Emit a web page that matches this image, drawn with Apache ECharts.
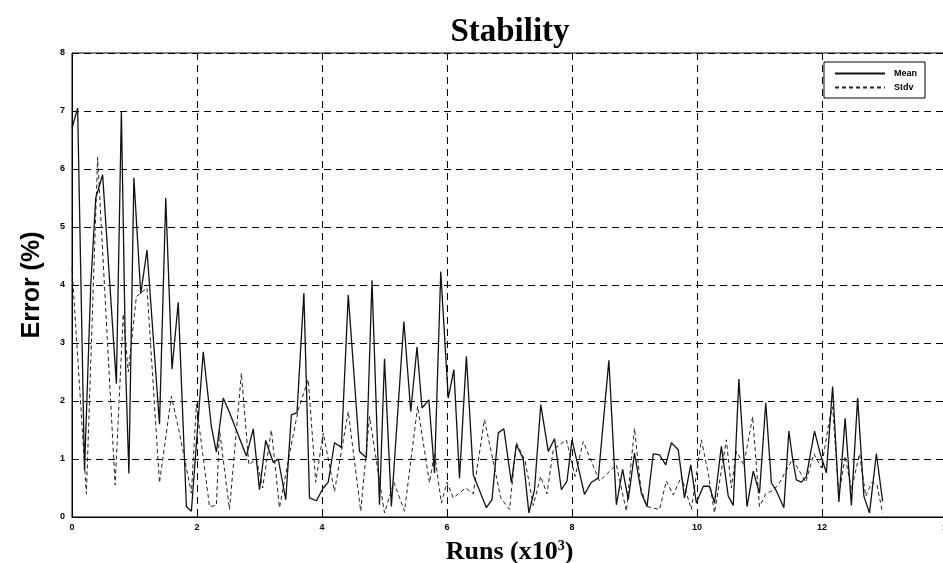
<!DOCTYPE html>
<html>
<head>
<meta charset="utf-8">
<script src="https://cdn.jsdelivr.net/npm/echarts@6/dist/echarts.min.js"></script>
<style>
  html, body { margin: 0; padding: 0; background: #fff; }
  #chart { width: 943px; height: 563px; }
</style>
</head>
<body>
<div id="chart"></div>
<script>
// runs in thousands, error in %
const meanRuns = [0, 0.09, 0.2, 0.3, 0.38, 0.49, 0.71, 0.79, 0.86, 0.91, 0.99, 1.1, 1.2, 1.4, 1.5, 1.6, 1.7, 1.83, 1.91,
  2.1, 2.23, 2.31, 2.42, 2.52, 2.79, 2.9, 3.0, 3.1, 3.22, 3.3, 3.42, 3.51, 3.6, 3.71, 3.8, 3.91,
  4.02, 4.1, 4.2, 4.31, 4.42, 4.6, 4.71, 4.8, 4.92, 5.0, 5.11, 5.31, 5.42, 5.52, 5.6, 5.71, 5.8, 5.9,
  6.02, 6.11, 6.2, 6.31, 6.42, 6.63, 6.72, 6.82, 6.91, 7.03, 7.11, 7.22, 7.31, 7.4, 7.5, 7.62, 7.72, 7.83, 7.92,
  8.0, 8.2, 8.31, 8.42, 8.59, 8.71, 8.81, 8.9, 9.0, 9.11, 9.2, 9.3, 9.4, 9.5, 9.59, 9.7, 9.8, 9.9, 9.99,
  10.1, 10.2, 10.28, 10.39, 10.5, 10.58, 10.67, 10.8, 10.9, 11.0, 11.1, 11.19, 11.27, 11.39, 11.47, 11.53, 11.59,
  11.67, 11.75, 11.88, 11.97, 12.07, 12.17, 12.27, 12.37, 12.47, 12.57, 12.67, 12.76, 12.87, 12.97];
const meanErr = [6.7, 7.05, 0.8, 4.0, 5.5, 5.9, 2.3, 7.0, 2.5, 0.75, 5.85, 3.85, 4.6, 1.6, 5.5, 2.55, 3.7, 0.18, 0.1,
  2.85, 1.56, 1.12, 2.05, 1.8, 1.05, 1.52, 0.47, 1.32, 0.94, 1.0, 0.3, 1.76, 1.8, 3.86, 0.33, 0.28,
  0.5, 0.6, 1.28, 1.2, 3.83, 1.13, 1.02, 4.08, 0.21, 2.73, 0.18, 3.37, 1.82, 2.93, 1.88, 2.02, 0.76, 4.23,
  2.05, 2.54, 0.67, 2.77, 0.73, 0.16, 0.3, 1.45, 1.52, 0.59, 1.25, 1.0, 0.07, 0.47, 1.94, 1.13, 1.35, 0.47, 0.62,
  1.33, 0.39, 0.6, 0.67, 2.7, 0.21, 0.82, 0.3, 1.1, 0.41, 0.18, 1.09, 1.07, 0.9, 1.28, 1.16, 0.33, 0.9, 0.24,
  0.53, 0.53, 0.24, 1.22, 0.36, 0.2, 2.38, 0.18, 0.79, 0.41, 1.97, 0.59, 0.45, 0.16, 1.48, 1.0, 0.64,
  0.6, 0.7, 1.48, 1.1, 0.76, 2.25, 0.26, 1.7, 0.2, 2.05, 0.36, 0.07, 1.09, 0.27];

const stdvRuns = [0, 0.23, 0.41, 0.69, 0.82, 0.9, 1.03, 1.2, 1.4, 1.59, 1.72, 1.91, 1.99, 2.2, 2.31, 2.36, 2.52, 2.71, 2.83, 2.95,
  3.05, 3.19, 3.32, 3.5, 3.62, 3.78, 3.9, 4.02, 4.2, 4.42, 4.62, 4.76, 5.0, 5.15, 5.32, 5.53, 5.72, 5.8, 5.91,
  6.0, 6.1, 6.3, 6.42, 6.6, 6.86, 7.0, 7.11, 7.25, 7.38, 7.5, 7.6, 7.7, 7.91, 8.05, 8.18, 8.44, 8.71, 8.87,
  9.0, 9.1, 9.2, 9.4, 9.51, 9.62, 9.75, 9.91, 10.07, 10.18, 10.28, 10.47, 10.55, 10.63, 10.75, 10.89,
  11.0, 11.1, 11.2, 11.3, 11.53, 11.74, 11.87, 11.99, 12.12, 12.17, 12.27, 12.37, 12.47, 12.6, 12.7, 12.8, 12.88, 12.97];
const stdvErr = [4.3, 0.4, 6.2, 0.55, 3.5, 2.5, 3.8, 3.95, 0.59, 2.08, 1.45, 0.41, 1.94, 0.18, 0.2, 1.5, 0.13, 2.48, 0.9, 1.0,
  0.5, 1.5, 0.16, 1.2, 1.85, 2.37, 0.6, 1.45, 0.44, 1.82, 0.1, 1.73, 0.07, 0.6, 0.1, 1.91, 0.59, 1.1, 0.24,
  0.6, 0.33, 0.5, 0.4, 1.68, 0.33, 0.13, 1.28, 0.97, 0.2, 0.7, 0.4, 1.16, 1.33, 0.7, 1.3, 0.62, 0.9, 0.1,
  1.53, 0.5, 0.18, 0.13, 0.62, 0.38, 0.7, 0.13, 1.33, 0.75, 0.07, 1.33, 0.5, 1.13, 0.9, 1.73,
  0.18, 0.4, 0.45, 0.55, 1.0, 0.6, 1.09, 0.85, 1.68, 1.9, 0.36, 1.05, 0.47, 1.09, 0.36, 0.6, 0.55, 0.07];

const zip = (xs, ys) => xs.map((x, i) => [x, ys[i]]);

const tickFont = { color: '#000', fontFamily: 'Arial', fontWeight: 'bold', fontSize: 9 };
const gridDash = { show: true, lineStyle: { color: '#000', type: [7, 5], width: 1 } };

const myChart = echarts.init(document.getElementById('chart'));
myChart.setOption({
  backgroundColor: '#fff',
  animation: false,
  title: {
    text: 'Stability',
    left: 505,
    top: 11,
    textAlign: 'center',
    textStyle: { fontFamily: 'Liberation Serif', fontWeight: 'bold', fontSize: 33, color: '#000' },
  },
  grid: {
    left: 72,
    top: 53,
    width: 875,
    bottom: 46,
    outerBoundsMode: 'none',
    show: true,
    borderColor: '#000',
    borderWidth: 1,
  },
  legend: {
    right: 18,
    top: 62,
    orient: 'vertical',
    backgroundColor: '#fff',
    borderColor: '#000',
    borderWidth: 1,
    padding: [7, 8, 6, 10],
    itemGap: 5,
    itemWidth: 50,
    itemHeight: 10,
    itemStyle: { opacity: 0 },
    textStyle: { color: '#000', fontFamily: 'Arial', fontWeight: 'bold', fontSize: 9, padding: [0, 0, 0, 4] },
    data: ['Mean', 'Stdv'],
  },
  xAxis: {
    type: 'value',
    min: 0,
    max: 14,
    interval: 2,
    name: 'Runs (x10{sup|3})',
    nameLocation: 'middle',
    nameGap: 22,
    nameTextStyle: {
      fontFamily: 'Liberation Serif', fontWeight: 'bold', fontSize: 26, color: '#000',
      rich: { sup: { fontFamily: 'Liberation Serif', fontWeight: 'bold', fontSize: 14, verticalAlign: 'top', padding: [0, 0, 12, 0] } },
    },
    axisLine: { show: true, lineStyle: { color: '#000', width: 1 } },
    axisTick: { inside: true, length: 4, lineStyle: { color: '#000' } },
    axisLabel: { ...tickFont, margin: 6 },
    splitLine: gridDash,
  },
  yAxis: {
    type: 'value',
    min: 0,
    max: 8,
    interval: 1,
    name: 'Error (%)',
    nameLocation: 'middle',
    nameGap: 27,
    nameTextStyle: { fontFamily: 'Arial', fontWeight: 'bold', fontSize: 25, color: '#000' },
    axisLine: { show: true, lineStyle: { color: '#000', width: 1 } },
    axisTick: { inside: true, length: 4, lineStyle: { color: '#000' } },
    axisLabel: { ...tickFont, margin: 7 },
    splitLine: gridDash,
  },
  series: [
    {
      name: 'Mean',
      type: 'line',
      symbol: 'none',
      data: zip(meanRuns, meanErr),
      lineStyle: { color: '#111', width: 1.3, type: 'solid' },
      itemStyle: { color: '#111' },
      z: 3,
    },
    {
      name: 'Stdv',
      type: 'line',
      symbol: 'none',
      data: zip(stdvRuns, stdvErr),
      lineStyle: { color: '#222', width: 1, type: [4, 3] },
      itemStyle: { color: '#222' },
      z: 2,
    },
  ],
});
</script>
</body>
</html>
